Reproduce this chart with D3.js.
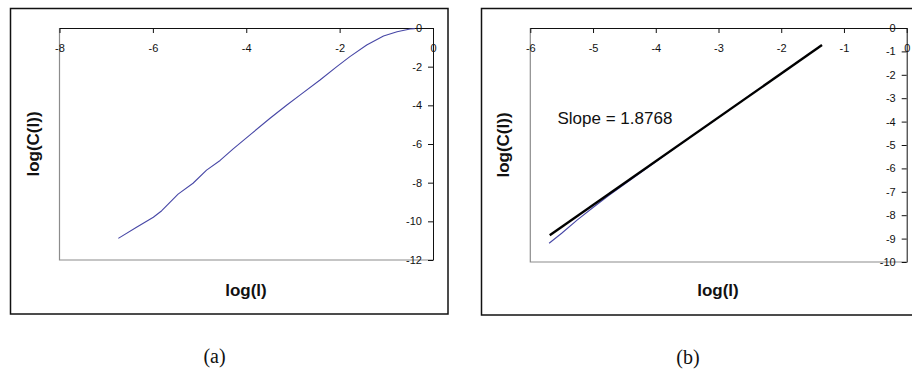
<!DOCTYPE html>
<html>
<head>
<meta charset="utf-8">
<script src="https://cdn.jsdelivr.net/npm/d3@7"></script>
<style>
  html, body { margin: 0; padding: 0; background: #fff; }
  svg { display: block; }
  .tick text { font-family: "Liberation Sans", Arial, sans-serif; font-size: 11px; fill: #111; }
</style>
</head>
<body>
<svg id="fig"></svg>
<script>
// Panel (a): full correlation integral curve
const aLogL = [-6.74, -6.35, -5.99, -5.81, -5.46, -5.14, -4.85, -4.56, -4.28, -3.88, -3.49, -3.13, -2.85, -2.42, -2.06, -1.78, -1.42, -1.06, -0.77, -0.49, -0.39];
const aLogC = [-10.88, -10.31, -9.79, -9.45, -8.59, -8.03, -7.35, -6.85, -6.25, -5.45, -4.67, -3.98, -3.47, -2.69, -2.0, -1.48, -0.88, -0.41, -0.19, -0.05, -0.03];
const aXTicks = [-8, -6, -4, -2, 0];
const aYTicks = [0, -2, -4, -6, -8, -10, -12];

// Panel (b): scaling region with linear fit
const bLogL = [-5.70, -5.50, -5.25, -5.00, -4.75, -4.50, -4.00, -3.50, -3.00, -2.50, -2.00, -1.60, -1.36];
const bLogC = [-9.20, -8.77, -8.20, -7.67, -7.16, -6.68, -5.72, -4.76, -3.83, -2.87, -1.96, -1.19, -0.75];
const fitLogL = [-5.69, -1.35];
const fitLogC = [-8.86, -0.73];
const bXTicks = [-6, -5, -4, -3, -2, -1, 0];
const bYTicks = [0, -1, -2, -3, -4, -5, -6, -7, -8, -9, -10];

const W = 912, H = 369;
const SERIES = "#4747a6";

const svg = d3.select("#fig").attr("width", W).attr("height", H);
svg.append("rect").attr("width", W).attr("height", H).attr("fill", "#fff");

// plain hyphen minus, like the original spreadsheet labels
const fmt = d => String(d);

function panel(cfg) {
  const g = svg.append("g");

  // outer frame
  g.append("rect")
    .attr("x", cfg.frame[0]).attr("y", cfg.frame[1])
    .attr("width", cfg.frame[2]).attr("height", cfg.frame[3])
    .attr("fill", "none").attr("stroke", "#111").attr("stroke-width", 1.5);

  const x = d3.scaleLinear().domain(cfg.xDomain).range([cfg.left, cfg.right]);
  const y = d3.scaleLinear().domain(cfg.yDomain).range([cfg.bottom, cfg.top]);

  // gray plot-area edges (left + bottom)
  g.append("path")
    .attr("d", `M${cfg.left},${cfg.top}V${cfg.bottom}H${cfg.right}`)
    .attr("fill", "none").attr("stroke", "#8c8c8c").attr("stroke-width", 1.2);

  // x axis along the top
  g.append("g")
    .attr("transform", `translate(0,${cfg.top})`)
    .call(d3.axisBottom(x).tickValues(cfg.xTicks).tickSize(5).tickSizeOuter(0)
      .tickPadding(11).tickFormat(fmt))
    .call(a => a.selectAll("line,path").attr("stroke", "#111"));

  // y axis along the right
  g.append("g")
    .attr("transform", `translate(${cfg.right},0)`)
    .call(d3.axisLeft(y).tickValues(cfg.yTicks).tickSize(5).tickSizeOuter(0)
      .tickPadding(6).tickFormat(fmt))
    .call(a => a.selectAll("line,path").attr("stroke", "#111"));

  const line = d3.line().x(d => x(d[0])).y(d => y(d[1]));

  g.append("path")
    .datum(d3.zip(cfg.xs, cfg.ys))
    .attr("fill", "none").attr("stroke", SERIES).attr("stroke-width", 1.1)
    .attr("stroke-linejoin", "round")
    .attr("d", line);

  if (cfg.fitX) {
    g.append("path")
      .datum(d3.zip(cfg.fitX, cfg.fitY))
      .attr("fill", "none").attr("stroke", "#000").attr("stroke-width", 2.4)
      .attr("d", line);
  }

  // axis titles
  g.append("text")
    .attr("transform", `translate(${cfg.yTitle[0]},${cfg.yTitle[1]}) rotate(-90)`)
    .attr("text-anchor", "middle").attr("dy", "0.35em")
    .attr("font-family", "Liberation Sans, Arial, sans-serif")
    .attr("font-size", 17).attr("font-weight", "bold").attr("fill", "#111")
    .text("log(C(l))");

  g.append("text")
    .attr("x", cfg.xTitle[0]).attr("y", cfg.xTitle[1])
    .attr("text-anchor", "middle").attr("dy", "0.35em")
    .attr("font-family", "Liberation Sans, Arial, sans-serif")
    .attr("font-size", 17).attr("font-weight", "bold").attr("fill", "#111")
    .text("log(l)");

  // caption
  g.append("text")
    .attr("x", cfg.caption[0]).attr("y", cfg.caption[1])
    .attr("text-anchor", "middle").attr("dy", "0.35em")
    .attr("font-family", "Liberation Serif, Times New Roman, serif")
    .attr("font-size", 20).attr("fill", "#111")
    .text(cfg.label);

  return { g, x, y };
}

panel({
  frame: [10.5, 8.5, 437.5, 305.5],
  left: 59.5, right: 433, top: 28, bottom: 260,
  xDomain: [-8, 0], yDomain: [-12, 0],
  xTicks: aXTicks, yTicks: aYTicks,
  xs: aLogL, ys: aLogC,
  yTitle: [33, 144], xTitle: [246, 290], caption: [214.5, 355.5], label: "(a)"
});

const pb = panel({
  frame: [481.5, 8.5, 440, 306.5],
  left: 530.3, right: 906.7, top: 28, bottom: 262,
  xDomain: [-6, 0], yDomain: [-10, 0],
  xTicks: bXTicks, yTicks: bYTicks,
  xs: bLogL, ys: bLogC, fitX: fitLogL, fitY: fitLogC,
  yTitle: [503, 145], xTitle: [718, 290], caption: [688, 357], label: "(b)"
});

pb.g.append("text")
  .attr("x", 557.5).attr("y", 118).attr("dy", "0.35em")
  .attr("font-family", "Liberation Sans, Arial, sans-serif")
  .attr("font-size", 17).attr("fill", "#111")
  .text("Slope = 1.8768");
</script>
</body>
</html>
